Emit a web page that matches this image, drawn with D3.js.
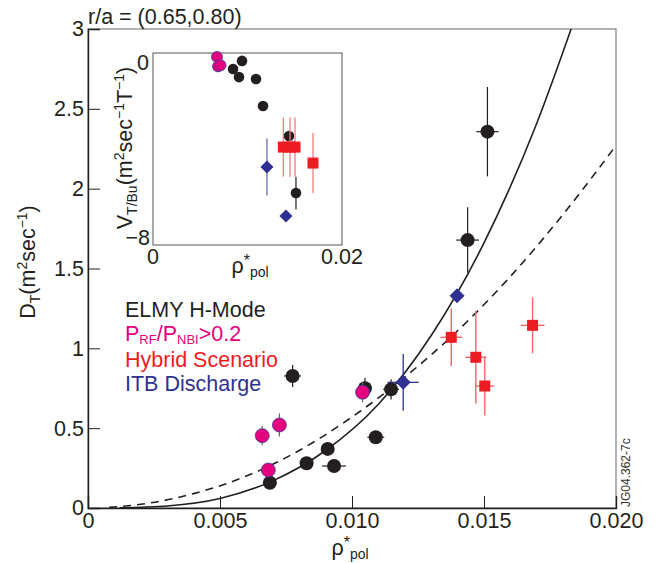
<!DOCTYPE html>
<html>
<head>
<meta charset="utf-8">
<script src="https://cdn.jsdelivr.net/npm/d3@7"></script>
<style>
  body { margin: 0; background: #fff; }
  text { font-family: "Liberation Sans", Arial, sans-serif; fill: #231f20; }
</style>
</head>
<body>
<div id="chart"></div>
<script>
// main plot: D_T vs rho*_pol
var elmyX = [0.00689, 0.00828, 0.00908, 0.00932, 0.00775, 0.01049, 0.0109, 0.01148, 0.01438, 0.01513];
var elmyY = [0.158, 0.280, 0.370, 0.263, 0.827, 0.750, 0.443, 0.743, 1.678, 2.357];
var elmyXErr = [0, 0, 0, 0.00045, 0.00032, 0, 0.00032, 0.0003, 0.00043, 0.00042];
var elmyYErr = [0, 0, 0, 0, 0.069, 0.065, 0, 0.063, 0.205, 0.28];

var rfX = [0.0066, 0.00725, 0.00683, 0.0104];
var rfY = [0.453, 0.520, 0.238, 0.725];
var rfYErr = [0.06, 0.072, 0, 0.063];

var hybX = [0.01376, 0.01469, 0.01503, 0.01684];
var hybY = [1.069, 0.944, 0.764, 1.144];
var hybXErr = [0.00041, 0.0004, 0.00036, 0.00045];
var hybYErr = [0.18, 0.29, 0.185, 0.175];

var itbX = [0.01194, 0.01398];
var itbY = [0.787, 1.33];
var itbXErr = [0.00059, 0];
var itbYErr = [0.178, 0];

// fit curves
var solidX = [0.0012, 0.003, 0.005, 0.007, 0.009, 0.011, 0.013, 0.015, 0.017, 0.0183];
var solidY = [0.001, 0.013, 0.06, 0.17, 0.36, 0.65, 1.08, 1.66, 2.41, 3.0];
var dashX = [0.0008, 0.002, 0.004, 0.006, 0.008, 0.010, 0.012, 0.014, 0.016, 0.018, 0.020];
var dashY = [0.004, 0.023, 0.09, 0.2, 0.36, 0.57, 0.82, 1.11, 1.45, 1.84, 2.27];

var xTicks = [0, 0.005, 0.010, 0.015, 0.020];
var yTicks = [0, 0.5, 1, 1.5, 2, 2.5, 3];

// inset: V_T/Bu vs rho*_pol
var inElmyX = [0.00847, 0.00942, 0.0091, 0.0109, 0.01164, 0.01439, 0.01513];
var inElmyY = [-0.32, 0.05, -0.69, -0.78, -2.01, -3.38, -5.99];
var inElmyYErr = [0, 0, 0, 0, 0, 0, 0.75];
var inRfX = [0.00677, 0.00688, 0.00715];
var inRfY = [0.23, -0.2, -0.15];
var inHybX = [0.01379, 0.0145, 0.01503, 0.01693];
var inHybY = [-3.89, -3.89, -3.89, -4.62];
var inHybYErr = [1.35, 1.35, 1.35, 1.37];
var inItbX = [0.01206, 0.01407];
var inItbY = [-4.8, -7.04];
var inItbYErr = [1.3, 0];

var W = 669, H = 563;
var FS = "21.5px", SUB = "14px";
var svg = d3.select("#chart").append("svg").attr("width", W).attr("height", H);

var x = d3.scaleLinear().domain([0, 0.02]).range([88, 616]);
var y = d3.scaleLinear().domain([0, 3]).range([508, 29]);

var col = { elmy: "#231f20", rf: "#e5007e", hyb: "#ed1c24", itb: "#2e3192" };

// frame
svg.append("rect").attr("x", 88).attr("y", 29).attr("width", 528).attr("height", 479)
    .attr("fill", "none").attr("stroke", "#666").attr("stroke-width", 1);

var xAxis = svg.append("g").attr("transform", "translate(0,508)")
    .call(d3.axisBottom(x).tickValues(xTicks).tickSize(-12).tickPadding(5)
        .tickFormat(function(d) { return d === 0 ? "0" : d3.format(".3f")(d); }));
var yAxis = svg.append("g").attr("transform", "translate(88,0)")
    .call(d3.axisLeft(y).tickValues(yTicks).tickSize(-12).tickPadding(4)
        .tickFormat(function(d) { return d3.format("~g")(d); }));
[xAxis, yAxis].forEach(function(a) {
    a.select(".domain").attr("stroke", "#231f20").attr("stroke-width", 1.4);
    a.selectAll(".tick line").attr("stroke", "#231f20");
    a.selectAll(".tick text").style("font-size", FS).attr("fill", "#231f20")
        .style("font-family", "'Liberation Sans', Arial, sans-serif");
});
xAxis.selectAll(".tick").filter(function(d) { return d === 0.02; }).select("line").remove();
yAxis.selectAll(".tick").filter(function(d) { return d === 3; }).select("line").remove();

// curves
var line = d3.line().x(function(d) { return x(d[0]); }).y(function(d) { return y(d[1]); })
    .curve(d3.curveMonotoneX);
svg.append("path").datum(d3.zip(solidX, solidY)).attr("d", line)
    .attr("fill", "none").attr("stroke", "#231f20").attr("stroke-width", 1.6);
svg.append("path").datum(d3.zip(dashX, dashY)).attr("d", line)
    .attr("fill", "none").attr("stroke", "#231f20").attr("stroke-width", 1.6)
    .attr("stroke-dasharray", "8,6");

// error bars helper
function errBars(g, xs, ys, xe, ye, sx, sy, color, w) {
    xs.forEach(function(v, i) {
        if (ye && ye[i]) g.append("line").attr("x1", sx(v)).attr("x2", sx(v))
            .attr("y1", sy(ys[i] - ye[i])).attr("y2", sy(ys[i] + ye[i]))
            .attr("stroke", color).attr("stroke-width", w);
        if (xe && xe[i]) g.append("line").attr("y1", sy(ys[i])).attr("y2", sy(ys[i]))
            .attr("x1", sx(v - xe[i])).attr("x2", sx(v + xe[i]))
            .attr("stroke", color).attr("stroke-width", w);
    });
}
function circles(g, xs, ys, sx, sy, r, fill, stroke) {
    g.selectAll(null).data(d3.zip(xs, ys)).enter().append("circle")
        .attr("cx", function(d) { return sx(d[0]); }).attr("cy", function(d) { return sy(d[1]); })
        .attr("r", r).attr("fill", fill).attr("stroke", stroke || "none").attr("stroke-width", 0.8);
}
function squares(g, xs, ys, sx, sy, s, fill) {
    g.selectAll(null).data(d3.zip(xs, ys)).enter().append("rect")
        .attr("x", function(d) { return sx(d[0]) - s / 2; }).attr("y", function(d) { return sy(d[1]) - s / 2; })
        .attr("width", s).attr("height", s).attr("fill", fill);
}
function diamonds(g, xs, ys, sx, sy, h, fill) {
    g.selectAll(null).data(d3.zip(xs, ys)).enter().append("path")
        .attr("transform", function(d) { return "translate(" + sx(d[0]) + "," + sy(d[1]) + ")"; })
        .attr("d", "M0," + (-h) + "L" + h + ",0L0," + h + "L" + (-h) + ",0Z").attr("fill", fill);
}

var pts = svg.append("g");
errBars(pts, elmyX, elmyY, elmyXErr, elmyYErr, x, y, "#231f20", 1.2);
circles(pts, elmyX, elmyY, x, y, 7, col.elmy);
errBars(pts, rfX, rfY, null, rfYErr, x, y, "#666", 1.2);
circles(pts, rfX, rfY, x, y, 7, col.rf, "#3a3f9e");
errBars(pts, hybX, hybY, hybXErr, hybYErr, x, y, "#f0686c", 1.4);
squares(pts, hybX, hybY, x, y, 11, col.hyb);
errBars(pts, itbX, itbY, itbXErr, itbYErr, x, y, col.itb, 1.3);
diamonds(pts, itbX, itbY, x, y, 7.5, col.itb);

// inset
var xi = d3.scaleLinear().domain([0, 0.02]).range([153, 342]);
var yi = d3.scaleLinear().domain([0, -8]).range([62, 237]);
svg.append("rect").attr("x", 153).attr("y", 53).attr("width", 189).attr("height", 192)
    .attr("fill", "#fff").attr("stroke", "#555").attr("stroke-width", 1);
var ins = svg.append("g");
ins.append("text").attr("x", 149).attr("y", yi(0)).attr("dy", "0.35em").attr("text-anchor", "end")
    .style("font-size", FS).text("0");
ins.append("text").attr("x", 150).attr("y", yi(-8)).attr("dy", "0.35em").attr("text-anchor", "end")
    .style("font-size", FS).text("\u22128");
ins.append("text").attr("x", xi(0)).attr("y", 264).attr("text-anchor", "middle")
    .style("font-size", FS).text("0");
ins.append("text").attr("x", xi(0.02)).attr("y", 264).attr("text-anchor", "middle")
    .style("font-size", FS).text("0.02");

errBars(ins, inElmyX, inElmyY, null, inElmyYErr, xi, yi, "#231f20", 1.2);
circles(ins, inElmyX, inElmyY, xi, yi, 5.3, col.elmy);
circles(ins, inRfX, inRfY, xi, yi, 5.5, col.rf, "#3a3f9e");
errBars(ins, inHybX, inHybY, null, inHybYErr, xi, yi, "#f27d80", 1.3);
squares(ins, inHybX, inHybY, xi, yi, 11, col.hyb);
errBars(ins, inItbX, inItbY, null, inItbYErr, xi, yi, "#5d60a8", 1.2);
diamonds(ins, inItbX, inItbY, xi, yi, 6.5, col.itb);

// rho*_pol label
function rhoLabel(px, py) {
    var t = svg.append("text").attr("x", px).attr("y", py).attr("text-anchor", "middle").style("font-size", FS);
    t.append("tspan").text("\u03c1");
    t.append("tspan").attr("dy", -7).style("font-size", "16px").text("*");
    t.append("tspan").attr("dy", 11).style("font-size", SUB).text("pol");
}
rhoLabel(250, 273);
rhoLabel(350, 555);

// inset y label
var vl = svg.append("text").attr("transform", "translate(132,148) rotate(-90)")
    .attr("text-anchor", "middle").style("font-size", FS);
vl.append("tspan").text("V");
vl.append("tspan").attr("dy", 5).style("font-size", SUB).text("T/Bu");
vl.append("tspan").attr("dy", -5).text("(m");
vl.append("tspan").attr("dy", -8).style("font-size", SUB).text("2");
vl.append("tspan").attr("dy", 8).text("sec");
vl.append("tspan").attr("dy", -8).style("font-size", SUB).text("\u22121");
vl.append("tspan").attr("dy", 8).text("T");
vl.append("tspan").attr("dy", -8).style("font-size", SUB).text("\u22121");
vl.append("tspan").attr("dy", 8).text(")");

// main y label
var dl = svg.append("text").attr("transform", "translate(35,262) rotate(-90)")
    .attr("text-anchor", "middle").style("font-size", FS);
dl.append("tspan").text("D");
dl.append("tspan").attr("dy", 5).style("font-size", SUB).text("T");
dl.append("tspan").attr("dy", -5).text("(m");
dl.append("tspan").attr("dy", -8).style("font-size", SUB).text("2");
dl.append("tspan").attr("dy", 8).text("sec");
dl.append("tspan").attr("dy", -8).style("font-size", SUB).text("\u22121");
dl.append("tspan").attr("dy", 8).text(")");

// title
svg.append("text").attr("x", 88).attr("y", 24).style("font-size", FS).text("r/a = (0.65,0.80)");

// legend
var lg = svg.append("g").style("font-size", FS);
lg.append("text").attr("x", 125).attr("y", 317).text("ELMY H-Mode");
var l2 = lg.append("text").attr("x", 125).attr("y", 341).style("fill", col.rf);
l2.append("tspan").style("fill", col.rf).text("P");
l2.append("tspan").attr("dy", 3).style("font-size", "13px").style("fill", col.rf).text("RF");
l2.append("tspan").attr("dy", -3).style("fill", col.rf).text("/P");
l2.append("tspan").attr("dy", 3).style("font-size", "13px").style("fill", col.rf).text("NBI");
l2.append("tspan").attr("dy", -3).style("fill", col.rf).text(">0.2");
lg.append("text").attr("x", 125).attr("y", 367).style("fill", col.hyb).text("Hybrid Scenario");
lg.append("text").attr("x", 125).attr("y", 391).style("fill", col.itb).text("ITB Discharge");

// figure id
svg.append("text").attr("transform", "translate(630,507) rotate(-90)")
    .style("font-size", "12px").style("fill", "#333").text("JG04.362-7c");
</script>
</body>
</html>
